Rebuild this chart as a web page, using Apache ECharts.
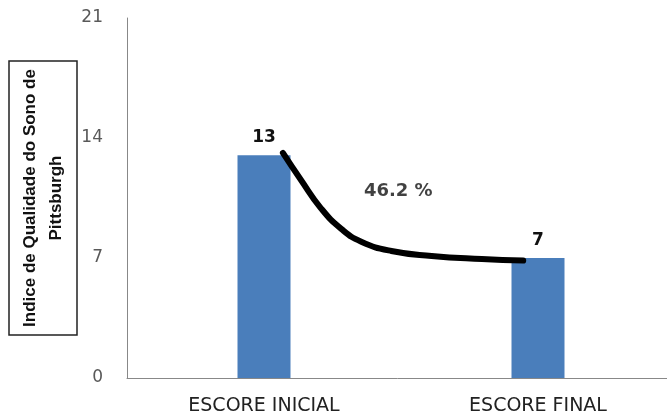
<!DOCTYPE html>
<html>
<head>
<meta charset="utf-8">
<script src="https://cdn.jsdelivr.net/npm/echarts@6/dist/echarts.min.js"></script>
<style>
html,body{margin:0;padding:0;background:#fff;}
#chart{width:667px;height:416px;}
</style>
</head>
<body>
<div id="chart"></div>
<script>
var categories = ['ESCORE INICIAL', 'ESCORE FINAL'];
var scores = [13, 7];
// curve, x in category units (0..2), y in score
var curveX = [0.569, 0.635, 0.708, 0.782, 0.855, 0.965, 1.112, 1.295, 1.446];
var curveY = [13.13, 11.55, 9.9, 8.7, 7.95, 7.41, 7.12, 6.94, 6.85];
var dropLabel = '46.2 %';
var dropPos = [0.99, 10.9];

var myChart = echarts.init(document.getElementById('chart'));

var curveData = [];
for (var i = 0; i < curveX.length; i++) {
	curveData.push([curveX[i], curveY[i]]);
}

var option = {
	animation : false,
	grid : {
		left : 127,
		top : 18,
		width : 548,
		height : 360,
		containLabel : false,
		outerBoundsMode : 'none'
	},
	xAxis : [ {
		type : 'category',
		data : categories,
		axisLine : { lineStyle : { color : '#888', width : 1 } },
		axisTick : { show : false },
		axisLabel : {
			margin : 19,
			color : '#222',
			fontSize : 19,
			fontFamily : 'DejaVu Sans'
		}
	}, {
		type : 'value',
		min : 0,
		max : 2,
		show : false
	} ],
	yAxis : {
		type : 'value',
		min : 0,
		max : 21,
		interval : 7,
		splitLine : { show : false },
		axisLine : { show : true, lineStyle : { color : '#888', width : 1 } },
		axisTick : { show : false },
		axisLabel : {
			margin : 24,
			color : '#595959',
			fontSize : 17,
			fontFamily : 'DejaVu Sans'
		},
		name : 'Indice de Qualidade do Sono de\nPittsburgh',
		nameLocation : 'middle',
		nameRotate : 90,
		nameGap : 50,
		nameMoveOverlap : false,
		nameTextStyle : {
			fontFamily : 'Liberation Sans',
			fontWeight : 'bold',
			fontSize : 17,
			color : '#111',
			lineHeight : 26,
			borderColor : '#222',
			borderWidth : 1.5,
			padding : [8, 8, 8, 8]
		}
	},
	series : [ {
		type : 'bar',
		data : scores,
		barWidth : 53,
		itemStyle : { color : '#4a7ebb' },
		label : {
			show : true,
			position : 'top',
			distance : 9,
			color : '#111',
			fontWeight : 'bold',
			fontSize : 17,
			fontFamily : 'DejaVu Sans'
		}
	}, {
		type : 'line',
		xAxisIndex : 1,
		data : curveData,
		smooth : true,
		symbol : 'none',
		lineStyle : { color : '#000', width : 6, cap : 'round', join : 'round' }
	}, {
		type : 'scatter',
		xAxisIndex : 1,
		data : [dropPos],
		symbolSize : 0,
		label : {
			show : true,
			position : 'inside',
			formatter : dropLabel,
			color : '#111',
			fontWeight : 'bold',
			fontSize : 18,
			fontFamily : 'DejaVu Sans'
		}
	} ]
};
myChart.setOption(option, true);
</script>
</body>
</html>
